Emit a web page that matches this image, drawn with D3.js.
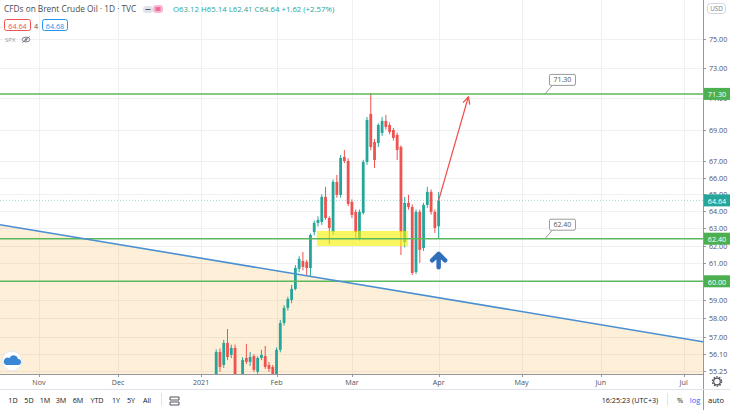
<!DOCTYPE html>
<html><head><meta charset="utf-8">
<script src="https://cdn.jsdelivr.net/npm/d3@7/dist/d3.min.js"></script>
<style>
html,body{margin:0;padding:0;background:#fff;}
svg{display:block;font-family:"Open Sans","Noto Sans",sans-serif;}
</style></head><body>
<svg id="c" width="730" height="410"></svg>
<script>
// ---------- data ----------
const monthLabels = ["Nov","Dec","2021","Feb","Mar","Apr","May","Jun","Jul"];
const monthBarIndex = [0,21,43,63,83,106,128,149,171];
const priceTicks = [75,73,71,69,67,66,65,64,63,62,61,60,59,58,57,56.10,55.25];
const firstBar = 47; // 2021-01-08
const dates = ["01-08","01-11","01-12","01-13","01-14","01-15","01-18","01-19","01-20","01-21","01-22",
 "01-25","01-26","01-27","01-28","01-29","02-01","02-02","02-03","02-04","02-05","02-08","02-09","02-10","02-11","02-12",
 "02-15","02-16","02-17","02-18","02-19","02-22","02-23","02-24","02-25","02-26","03-01","03-02","03-03","03-04","03-05",
 "03-08","03-09","03-10","03-11","03-12","03-15","03-16","03-17","03-18","03-19","03-22","03-23","03-24","03-25","03-26",
 "03-29","03-30","03-31","04-01"];
const opens  = [54.90,56.22,55.55,56.69,56.07,56.43,54.50,54.90,55.91,55.71,56.01,55.20,55.91,56.01,55.55,55.45,
 55.00,56.33,57.74,58.55,58.98,59.58,60.69,61.13,61.08,60.74,62.79,63.31,63.37,64.85,63.60,62.79,65.75,64.97,67.28,67.03,
 64.55,63.96,62.44,63.90,66.97,70.00,68.21,68.15,68.78,69.55,69.29,68.97,68.66,67.90,62.20,64.49,64.25,60.52,63.96,61.87,
 64.37,65.15,63.96,63.12];
const highs  = [56.35,56.40,56.85,57.42,56.60,56.60,55.00,55.95,56.64,56.22,56.10,56.00,56.33,56.53,55.70,55.55,
 56.45,57.90,58.70,59.15,59.80,60.90,61.40,61.64,61.20,62.70,63.45,63.70,65.00,65.45,63.70,65.90,66.17,67.40,67.71,67.20,
 64.70,64.10,64.10,67.10,69.80,71.36,68.40,69.40,69.80,69.93,69.45,69.10,68.80,68.00,64.85,64.97,64.40,64.10,64.10,64.50,
 65.45,65.30,64.10,65.14];
const lows   = [54.50,55.20,55.40,55.80,55.90,54.70,54.20,54.80,55.60,55.50,55.20,55.10,55.80,55.35,55.20,54.90,
 54.90,56.20,57.60,58.40,58.80,59.50,60.50,60.60,60.35,60.30,62.60,63.10,63.20,63.50,62.10,62.60,64.80,64.80,66.90,64.30,
 63.60,62.44,62.30,63.80,66.80,67.70,66.60,67.90,68.60,69.00,68.70,68.30,67.09,61.47,61.90,64.10,60.35,60.40,61.02,61.70,
 64.20,63.80,62.73,62.41];
const closes = [56.22,55.45,56.69,55.96,56.43,54.90,54.80,55.81,55.71,55.96,55.30,55.91,56.07,55.45,55.35,55.00,
 56.33,57.74,58.55,59.03,59.58,60.74,61.25,60.80,60.74,62.62,63.31,63.49,64.85,63.60,63.02,65.75,64.97,67.22,67.03,64.43,
 63.78,62.79,63.96,66.97,69.61,67.90,67.09,69.29,69.55,69.16,68.84,68.47,67.71,62.79,64.49,64.25,60.46,63.96,61.76,64.37,
 65.15,63.96,63.02,64.64];
const levels = [71.30, 62.40, 60.00];
const calloutLevels = [71.30, 62.40];
const calloutBar = 134.2;
const trendBars = [-10.35, 176.1];
const trendPrices = [63.21, 56.75];
const zoneBars = [73.7, 97.9];
const zonePrices = [62.85, 61.98];
const arrowBars = [106, 113.9];
const arrowPrices = [64.64, 71.12];
const blueArrowBar = 106, blueArrowPrice = 61.62;
const lastPrice = 64.64;
const toolbarRanges = ["1D","5D","1M","3M","6M","YTD","1Y","5Y","All"];

// ---------- layout ----------
const PR = 703, PB = 374;
const GREEN = "#26a69a", RED = "#ef5350", LEVEL = "#5cb85c";
const svg = d3.select("#c");
const x = d3.scaleLinear().domain([monthBarIndex[0], monthBarIndex[monthBarIndex.length-1]]).range([39, 683.7]);
const y = d3.scaleLog().domain([55.09, 77.74]).range([PB, 0]);

svg.append("defs").append("clipPath").attr("id","plot").append("rect").attr("width",PR).attr("height",PB);
const plot = svg.append("g").attr("clip-path","url(#plot)");

// grid
plot.selectAll(".vg").data(monthBarIndex).join("line")
  .attr("x1",d=>Math.round(x(d))+0.5).attr("x2",d=>Math.round(x(d))+0.5)
  .attr("y1",0).attr("y2",PB).attr("stroke","#eef0f4").attr("stroke-width",1);
plot.selectAll(".hg").data(priceTicks).join("line")
  .attr("y1",d=>Math.round(y(d))+0.5).attr("y2",d=>Math.round(y(d))+0.5)
  .attr("x1",0).attr("x2",PR).attr("stroke","#eef0f4").attr("stroke-width",1);

// trend fill + line
const tp = trendBars.map((b,i)=>[x(b), y(trendPrices[i])]);
plot.append("path")
  .attr("d",`M${tp[0][0]},${tp[0][1]}L${tp[1][0]},${tp[1][1]}L${tp[1][0]},${PB}L${tp[0][0]},${PB}Z`)
  .attr("fill","rgba(249,168,37,0.18)");

// candles
const candles = opens.map((o,i)=>({i:firstBar+i, date:dates[i], o, h:highs[i], l:lows[i], c:closes[i]}));
const cg = plot.append("g");
cg.selectAll(".wick").data(candles).join("line")
  .attr("x1",d=>x(d.i)).attr("x2",d=>x(d.i))
  .attr("y1",d=>y(d.h)).attr("y2",d=>y(d.l))
  .attr("stroke",d=>d.c>=d.o?GREEN:RED).attr("stroke-width",1);
cg.selectAll(".body").data(candles).join("rect")
  .attr("x",d=>x(d.i)-1.4).attr("width",2.8)
  .attr("y",d=>y(Math.max(d.o,d.c)))
  .attr("height",d=>Math.max(1, y(Math.min(d.o,d.c))-y(Math.max(d.o,d.c))))
  .attr("fill",d=>d.c>=d.o?GREEN:RED);

// yellow zone
plot.append("rect")
  .attr("x",x(zoneBars[0])).attr("width",x(zoneBars[1])-x(zoneBars[0]))
  .attr("y",y(zonePrices[0])).attr("height",y(zonePrices[1])-y(zonePrices[0]))
  .attr("fill","#f5f200").attr("opacity",0.62);

// last price dotted line
plot.append("line").attr("x1",0).attr("x2",PR)
  .attr("y1",y(lastPrice)).attr("y2",y(lastPrice))
  .attr("stroke",GREEN).attr("stroke-opacity",0.45).attr("stroke-dasharray","1,2");

// level lines
plot.selectAll(".lvl").data(levels).join("line")
  .attr("x1",0).attr("x2",PR).attr("y1",d=>y(d)).attr("y2",d=>y(d))
  .attr("stroke",LEVEL).attr("stroke-width",1.5);

// trend line
plot.append("line").attr("x1",tp[0][0]).attr("y1",tp[0][1]).attr("x2",tp[1][0]).attr("y2",tp[1][1])
  .attr("stroke","#4a8fd0").attr("stroke-width",1.6);

// red arrow
const a0=[x(arrowBars[0]),y(arrowPrices[0])], a1=[x(arrowBars[1]),y(arrowPrices[1])];
const ang = Math.atan2(a1[1]-a0[1], a1[0]-a0[0]);
const hl = 8, hw = 0.45;
plot.append("path")
  .attr("d",`M${a0[0]},${a0[1]}L${a1[0]},${a1[1]}M${a1[0]-hl*Math.cos(ang-hw)},${a1[1]-hl*Math.sin(ang-hw)}L${a1[0]},${a1[1]}L${a1[0]-hl*Math.cos(ang+hw)},${a1[1]-hl*Math.sin(ang+hw)}`)
  .attr("fill","none").attr("stroke",RED).attr("stroke-width",1.3).attr("stroke-linejoin","round");

// blue up arrow
const bx = x(blueArrowBar), by = y(blueArrowPrice);
plot.append("path").attr("d",`M${bx-6.5},${by+8}L${bx},${by+1.5}L${bx+6.5},${by+8}M${bx},${by+3}L${bx},${by+15}`)
  .attr("fill","none").attr("stroke","#2f6fba").attr("stroke-width",4.5)
  .attr("stroke-linecap","round").attr("stroke-linejoin","round");

// callouts
const co = svg.append("g");
calloutLevels.forEach(p=>{
  const ax = x(calloutBar), ay = y(p);
  co.append("line").attr("x1",ax).attr("y1",ay).attr("x2",ax+7).attr("y2",ay-8)
    .attr("stroke","#9a9a9a").attr("stroke-width",1);
  co.append("rect").attr("x",ax+4.5).attr("y",ay-19.5).attr("width",26).attr("height",11).attr("rx",1.5)
    .attr("fill","#fff").attr("stroke","#9a9a9a").attr("stroke-width",1);
  co.append("text").attr("x",ax+17.5).attr("y",ay-14).attr("text-anchor","middle")
    .attr("dominant-baseline","central").attr("font-size",7).attr("fill","#555").text(p.toFixed(2));
});

// ---------- right price axis ----------
const ra = svg.append("g");
ra.append("rect").attr("x",PR).attr("y",0).attr("width",730-PR).attr("height",389).attr("fill","#fff");
ra.append("line").attr("x1",PR+0.5).attr("x2",PR+0.5).attr("y1",0).attr("y2",410).attr("stroke","#9598a1");
ra.selectAll(".tk").data(priceTicks).join("line")
  .attr("x1",PR).attr("x2",PR+3).attr("y1",d=>Math.round(y(d))+0.5).attr("y2",d=>Math.round(y(d))+0.5)
  .attr("stroke","#9598a1");
ra.selectAll(".tl").data(priceTicks).join("text")
  .attr("x",PR+6).attr("y",d=>y(d)).attr("dominant-baseline","central")
  .attr("font-size",7.2).attr("fill","#50535e").text(d=>d.toFixed(2));
ra.append("rect").attr("x",707.5).attr("y",3.5).attr("width",18).attr("height",10).attr("rx",3)
  .attr("fill","#fff").attr("stroke","#d1d4dc");
ra.append("text").attr("x",716.5).attr("y",8.7).attr("text-anchor","middle").attr("dominant-baseline","central")
  .attr("font-size",6.3).attr("fill","#787b86").text("USD");
levels.forEach(p=>{
  ra.append("rect").attr("x",PR+1).attr("y",y(p)-6).attr("width",26).attr("height",12).attr("fill","#4caf50");
  ra.append("text").attr("x",PR+14).attr("y",y(p)+0.5).attr("text-anchor","middle").attr("dominant-baseline","central")
    .attr("font-size",7.2).attr("fill","#fff").text(p.toFixed(2));
});
ra.append("rect").attr("x",PR+1).attr("y",y(lastPrice)-6).attr("width",26).attr("height",12).attr("fill",GREEN);
ra.append("text").attr("x",PR+14).attr("y",y(lastPrice)+0.5).attr("text-anchor","middle").attr("dominant-baseline","central")
  .attr("font-size",7.2).attr("fill","#fff").text(lastPrice.toFixed(2));

// ---------- time axis ----------
const ta = svg.append("g");
ta.append("line").attr("x1",0).attr("x2",PR).attr("y1",PB+0.5).attr("y2",PB+0.5).attr("stroke","#9598a1");
ta.selectAll(".mt").data(monthBarIndex).join("line")
  .attr("x1",d=>Math.round(x(d))+0.5).attr("x2",d=>Math.round(x(d))+0.5).attr("y1",PB).attr("y2",PB+3)
  .attr("stroke","#9598a1");
ta.selectAll(".ml").data(monthLabels).join("text")
  .attr("x",(d,i)=>x(monthBarIndex[i])).attr("y",385).attr("text-anchor","middle")
  .attr("font-size",7.2).attr("fill","#50535e").text(d=>d);
// gear
ta.append("circle").attr("cx",717).attr("cy",381.5).attr("r",3.3).attr("fill","none").attr("stroke","#50535e").attr("stroke-width",1.2);
ta.append("circle").attr("cx",717).attr("cy",381.5).attr("r",4.6).attr("fill","none").attr("stroke","#50535e").attr("stroke-width",1.3).attr("stroke-dasharray","1.6,1.3");

// bottom toolbar
const tb = svg.append("g");
tb.append("line").attr("x1",0).attr("x2",730).attr("y1",389.5).attr("y2",389.5).attr("stroke","#e0e3eb");
const tbx = [13,29,45,61,78,97,116,131,147];
tb.selectAll(".r").data(toolbarRanges).join("text")
  .attr("x",(d,i)=>tbx[i]).attr("y",402.5).attr("text-anchor","middle")
  .attr("font-size",7.2).attr("fill","#131722").text(d=>d);
tb.append("line").attr("x1",161.5).attr("x2",161.5).attr("y1",393).attr("y2",406).attr("stroke","#e0e3eb");
tb.append("path").attr("d","M170,397h9v3h-9M179,402h-9v3h9M170,397v3M179,402v3")
  .attr("fill","none").attr("stroke","#50535e").attr("stroke-width",1);
tb.append("text").attr("x",630).attr("y",402.5).attr("text-anchor","middle").attr("font-size",7.2).attr("fill","#131722").text("16:25:23 (UTC+3)");
tb.append("line").attr("x1",667.5).attr("x2",667.5).attr("y1",393).attr("y2",406).attr("stroke","#e0e3eb");
tb.append("text").attr("x",680).attr("y",402.5).attr("text-anchor","middle").attr("font-size",7.5).attr("fill","#131722").text("%");
tb.append("text").attr("x",695).attr("y",402.5).attr("text-anchor","middle").attr("font-size",7.5).attr("fill","#2962ff").text("log");
tb.append("text").attr("x",716).attr("y",402.5).attr("text-anchor","middle").attr("font-size",7.5).attr("fill","#131722").text("auto");

// cloud button
const cb = svg.append("g");
cb.append("circle").attr("cx",12).attr("cy",361).attr("r",10).attr("fill","#fff").attr("stroke","#e6e8ee");
cb.append("path").attr("d","M6,365h12a3,3 0 0 0 0,-6a4.5,4.5 0 0 0 -8.5,-1a3,3 0 0 0 -3.5,7z").attr("fill","#3a86d6");

// ---------- header ----------
const hd = svg.append("g");
hd.append("text").attr("x",4).attr("y",12).attr("font-size",8.3).attr("fill","#131722").attr("opacity",0.8)
  .text("CFDs on Brent Crude Oil · 1D · TVC");
hd.append("rect").attr("x",143).attr("y",6).attr("width",10).attr("height",7).attr("rx",3).attr("fill","#e0e3eb");
hd.append("line").attr("x1",145.5).attr("x2",150.5).attr("y1",9.5).attr("y2",9.5).attr("stroke","#50535e");
hd.append("rect").attr("x",153).attr("y",5).attr("width",10).attr("height",8).attr("rx",3).attr("fill","#f8bbd0");
hd.append("path").attr("d","M155.5,8h5M155.5,10h5").attr("stroke","#e91e63").attr("stroke-width",1);
hd.append("text").attr("x",173).attr("y",12).attr("font-size",7.8).attr("fill",GREEN)
  .text("O63.12  H65.14  L62.41  C64.64  +1.62 (+2.57%)");
hd.append("rect").attr("x",4.5).attr("y",19.5).attr("width",26).attr("height",11).attr("rx",2)
  .attr("fill","#fff").attr("stroke",RED);
hd.append("text").attr("x",17.5).attr("y",25.5).attr("text-anchor","middle").attr("dominant-baseline","central")
  .attr("font-size",7.2).attr("fill",RED).text("64.64");
hd.append("text").attr("x",36).attr("y",25.5).attr("text-anchor","middle").attr("dominant-baseline","central")
  .attr("font-size",7.2).attr("fill","#50535e").text("4");
hd.append("rect").attr("x",42.5).attr("y",19.5).attr("width",25).attr("height",11).attr("rx",2)
  .attr("fill","#fff").attr("stroke","#2196f3");
hd.append("text").attr("x",55).attr("y",25.5).attr("text-anchor","middle").attr("dominant-baseline","central")
  .attr("font-size",7.2).attr("fill","#2196f3").text("64.68");
hd.append("text").attr("x",5).attr("y",41.5).attr("font-size",6).attr("fill","#9598a1").text("SPX");
hd.append("ellipse").attr("cx",26).attr("cy",39.5).attr("rx",3.8).attr("ry",2.4).attr("fill","none").attr("stroke","#787b86").attr("stroke-width",1);
hd.append("circle").attr("cx",26).attr("cy",39.5).attr("r",1.2).attr("fill","#787b86");
hd.append("line").attr("x1",22.5).attr("y1",42.5).attr("x2",29.5).attr("y2",36.5).attr("stroke","#787b86").attr("stroke-width",1);
</script>
</body></html>
